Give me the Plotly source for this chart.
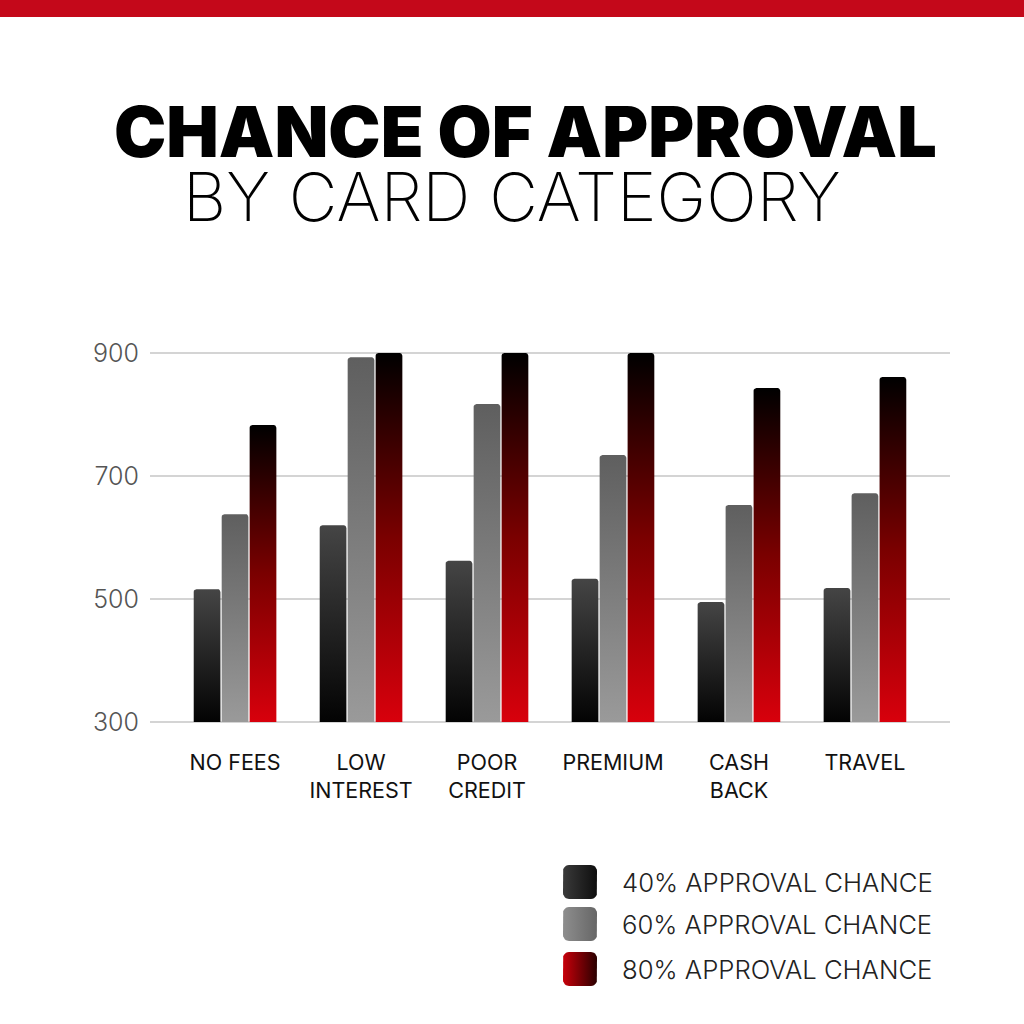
import math
import plotly.graph_objects as go

categories = ["NO FEES", "LOW<br>INTEREST", "POOR<br>CREDIT", "PREMIUM", "CASH<br>BACK", "TRAVEL"]
series_names = ["40% APPROVAL CHANCE", "60% APPROVAL CHANCE", "80% APPROVAL CHANCE"]
approval_40 = [516, 620, 562, 533, 495, 518]
approval_60 = [638, 893, 817, 734, 653, 672]
approval_80 = [783, 900, 900, 900, 843, 861]
y_ticks = [300, 500, 700, 900]

series_values = [approval_40, approval_60, approval_80]
# vertical gradients (bottom -> top)
bar_scales = [
    [[0, "#030303"], [1, "#454545"]],
    [[0, "#9a9a9a"], [1, "#5f5f5f"]],
    [[0, "#d8000c"], [0.5, "#7a0000"], [1, "#000000"]],
]
# horizontal gradients for legend swatches (left -> right)
legend_scales = [
    [[0, "#3a3a3a"], [1, "#0e0e0e"]],
    [[0, "#8e8e8e"], [1, "#666666"]],
    [[0, "#c8000a"], [1, "#2a0000"]],
]

base = y_ticks[0]
bar_w = 0.212
step = 0.222
rx, ry = 0.022, 4.5  # small rounding of top corners (axis units)

fig = go.Figure()


def bar_outline(x0, x1, y0, y1):
    xs, ys = [x0, x1], [y0, y0]
    for k in range(5):
        a = math.radians(90 * k / 4)
        xs.append(x1 - rx + rx * math.cos(a))
        ys.append(y1 - ry + ry * math.sin(a))
    for k in range(5):
        a = math.radians(90 + 90 * k / 4)
        xs.append(x0 + rx + rx * math.cos(a))
        ys.append(y1 - ry + ry * math.sin(a))
    xs.append(x0)
    ys.append(y0)
    return xs, ys


for s, vals in enumerate(series_values):
    off = (s - 1) * step
    for i, v in enumerate(vals):
        xs, ys = bar_outline(i + off - bar_w / 2, i + off + bar_w / 2, base, v)
        fig.add_trace(go.Scatter(
            x=xs, y=ys, mode="lines", line=dict(width=0), fill="toself",
            fillgradient=dict(type="vertical", colorscale=bar_scales[s]),
            showlegend=False, hoverinfo="skip", xaxis="x", yaxis="y"))


def rrect(x0, y0, x1, y1, r):
    pts = []
    corners = [(x1 - r, y0 + r, -90, 0), (x1 - r, y1 - r, 0, 90),
               (x0 + r, y1 - r, 90, 180), (x0 + r, y0 + r, 180, 270)]
    for cx, cy, a0, a1 in corners:
        for k in range(7):
            a = math.radians(a0 + (a1 - a0) * k / 6)
            pts.append((cx + r * math.cos(a), cy + r * math.sin(a)))
    pts.append(pts[0])
    return [p[0] for p in pts], [p[1] for p in pts]


legend_y = [882, 924, 969]
for s, name in enumerate(series_names):
    cy = legend_y[s]
    xs, ys = rrect(563, cy - 17, 597, cy + 17, 6)
    fig.add_trace(go.Scatter(
        x=xs, y=ys, mode="lines", line=dict(width=0), fill="toself",
        fillgradient=dict(type="horizontal", colorscale=legend_scales[s]),
        showlegend=False, hoverinfo="skip", xaxis="x2", yaxis="y2"))
    fig.add_annotation(x=620, y=cy, xref="x2", yref="y2", text=name,
                       showarrow=False, xanchor="left", yanchor="middle",
                       font=dict(family="Inter", size=25.7, color="#222222", weight=300))

fig.add_annotation(x=525, y=131, xref="x2", yref="y2", text="CHANCE OF APPROVAL",
                   showarrow=False, xanchor="center", yanchor="middle",
                   font=dict(family="Inter", size=70, color="#000000", weight=900))
fig.add_annotation(x=512, y=196, xref="x2", yref="y2", text="BY CARD CATEGORY",
                   showarrow=False, xanchor="center", yanchor="middle",
                   font=dict(family="Inter", size=67, color="#000000", weight=200))

fig.add_shape(type="rect", xref="paper", yref="paper", x0=0, x1=1,
              y0=1 - 17 / 1024, y1=1, line=dict(width=0), fillcolor="#c4081a",
              layer="above")

fig.update_layout(
    width=1024, height=1024,
    margin=dict(l=0, r=0, t=0, b=0, pad=0, autoexpand=False),
    paper_bgcolor="white", plot_bgcolor="rgba(0,0,0,0)", showlegend=False,
    xaxis=dict(domain=[150 / 1024, 950 / 1024], range=[-0.675, 5.675],
               tickmode="array", tickvals=list(range(len(categories))),
               ticktext=categories, showgrid=False, zeroline=False, showline=False,
               ticks="", ticklabelstandoff=24, automargin=False,
               tickfont=dict(family="Inter", size=21.5, color="#111111")),
    yaxis=dict(domain=[1 - 723.2 / 1024, 1 - 351.8 / 1024], range=[298, 902],
               tickmode="array", tickvals=y_ticks, showgrid=True,
               gridcolor="#d4d4d4", gridwidth=2, zeroline=False, showline=False,
               ticks="", ticklabelstandoff=10, automargin=False,
               tickfont=dict(family="Inter", size=25, color="#555555", weight=300)),
    xaxis2=dict(domain=[0, 1], range=[0, 1024], visible=False, fixedrange=True,
                automargin=False, anchor="y2"),
    yaxis2=dict(domain=[0, 1], range=[1024, 0], visible=False, fixedrange=True,
                anchor="x2", automargin=False),
)

fig.write_html("out.html", config={"displayModeBar": False},
               post_script="document.body.style.margin='0';document.body.style.overflow='hidden';")
